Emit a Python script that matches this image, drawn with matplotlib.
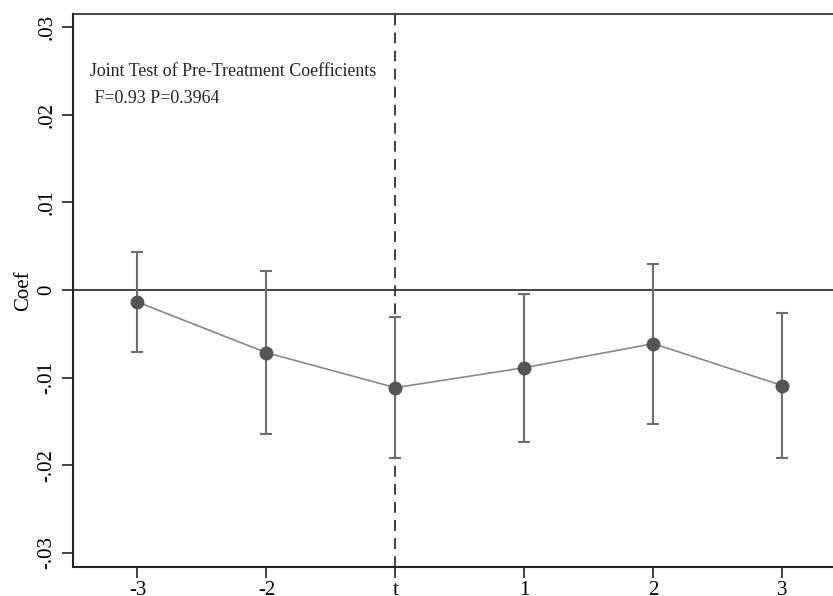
import matplotlib
matplotlib.use("Agg")
import matplotlib.pyplot as plt
import numpy as np

plt.rcParams['font.family'] = ['Liberation Serif', 'DejaVu Serif']

periods = ["-3", "-2", "t", "1", "2", "3"]
coef = [-0.00137, -0.00715, -0.01114, -0.00886, -0.00612, -0.0109]
ci_low = [-0.00703, -0.0164, -0.0192, -0.0173, -0.01528, -0.01916]
ci_high = [0.00437, 0.0022, -0.0031, -0.00046, 0.00296, -0.00262]
yticks = [-0.03, -0.02, -0.01, 0.0, 0.01, 0.02, 0.03]
ytick_labels = ["-.03", "-.02", "-.01", "0", ".01", ".02", ".03"]

fig = plt.figure(figsize=(8.33, 5.96), dpi=100)
ax = fig.add_axes([0.0876, 0.0487, 0.929, 0.9279])

x = np.arange(len(periods))
treat_pos = periods.index("t")
coef_a = np.array(coef)
yerr = np.vstack([coef_a - np.array(ci_low), np.array(ci_high) - coef_a])

ax.axhline(0, color="#333333", lw=1.3, zorder=1)
ax.axvline(treat_pos, color="#333333", lw=1.3, ls=(0, (6, 4)), zorder=1)

ax.errorbar(x, coef_a, yerr=yerr, fmt="none", ecolor="#6e6e6e", elinewidth=1.5,
            capsize=4.3, capthick=1.5, zorder=2)
ax.plot(x, coef_a, color="#888888", lw=1.2, zorder=3)
ax.plot(x, coef_a, "o", color="#555555", markersize=9, zorder=4, mec="#555555")

ax.set_xlim(-0.5, 5.5)
ax.set_ylim(-0.0316, 0.0315)
ax.set_xticks(x)
ax.set_xticklabels(periods)
ax.set_yticks(yticks)
ax.set_yticklabels(ytick_labels, rotation=90, va="center")
ax.tick_params(axis="both", labelsize=15, length=8, width=1.2, color="#222222")
ax.tick_params(axis="y", pad=4)
ax.tick_params(axis="x", pad=2)
ax.set_ylabel("Coef", fontsize=15, labelpad=3)

for s in ["left", "bottom", "top", "right"]:
    ax.spines[s].set_color("#222222")
ax.spines["left"].set_linewidth(1.5)
ax.spines["bottom"].set_linewidth(1.5)
ax.spines["top"].set_linewidth(1.2)

ax.text(-0.37, 0.0249, "Joint Test of Pre-Treatment Coefficients", fontsize=12.9,
        ha="left", va="center", color="#222222")
ax.text(-0.37, 0.0219, " F=0.93 P=0.3964", fontsize=12.9,
        ha="left", va="center", color="#222222")

fig.savefig("out.png", dpi=100)
